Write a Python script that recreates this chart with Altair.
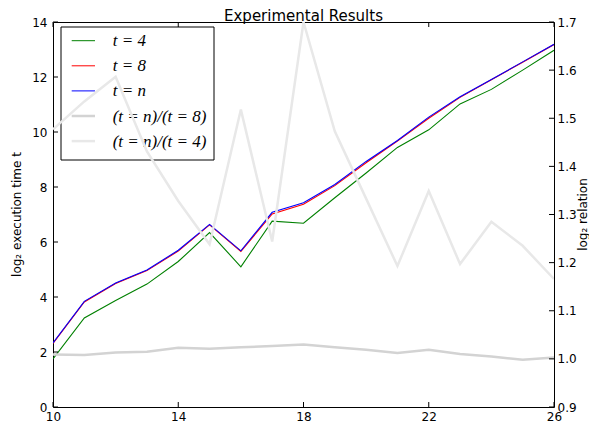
import altair as alt
import pandas as pd

# ---------------- data ----------------
x_vals = list(range(10, 27))
t4 = [1.75, 3.24, 3.87, 4.47, 5.29, 6.34, 5.10, 6.76, 6.68, 7.61, 8.51, 9.44, 10.08, 11.02, 11.55, 12.25, 12.97]
t8 = [2.31, 3.82, 4.49, 4.96, 5.67, 6.62, 5.66, 7.02, 7.37, 8.05, 8.88, 9.67, 10.50, 11.26, 11.90, 12.54, 13.18]
tn = [2.33, 3.84, 4.51, 4.98, 5.70, 6.64, 5.68, 7.08, 7.43, 8.09, 8.93, 9.69, 10.54, 11.28, 11.91, 12.55, 13.19]
ratio_n8 = [1.009, 1.008, 1.013, 1.015, 1.023, 1.021, 1.024, 1.027, 1.030, 1.024, 1.019, 1.012, 1.019, 1.010, 1.005, 0.998, 1.003]
ratio_n4 = [1.477, 1.535, 1.586, 1.431, 1.328, 1.238, 1.518, 1.244, 1.700, 1.473, 1.333, 1.193, 1.349, 1.197, 1.285, 1.235, 1.166]

x_ticks = [10, 14, 18, 22, 26]
left_ticks = [0, 2, 4, 6, 8, 10, 12, 14]
right_ticks = [0.9, 1.0, 1.1, 1.2, 1.3, 1.4, 1.5, 1.6, 1.7]

legend_labels = ["t = 4", "t = 8", "t = n", "(t = n)/(t = 8)", "(t = n)/(t = 4)"]
legend_colors = ["#008000", "#ff0000", "#0000ff", "#d3d3d3", "#e8e8e8"]
legend_widths = [1, 1, 1, 2.5, 2.5]

title_text = "Experimental Results"
left_title = "log\u2082 execution time t"
right_title = "log\u2082 relation"

# ---------------- layout ----------------
W, H = 501, 385
TICK = 5

df = pd.DataFrame({"x": x_vals, "t4": t4, "t8": t8, "tn": tn,
                   "r8": ratio_n8, "r4": ratio_n4})

xscale = alt.Scale(domain=[10, 26], nice=False, zero=False)
yl = alt.Scale(domain=[0, 14], nice=False, zero=False)
yr = alt.Scale(domain=[0.9, 1.7], nice=False, zero=False)

xaxis = alt.Axis(values=x_ticks, title=None, labelPadding=4, format="d", orient="bottom",
                 labelFlush=False)
lyaxis = alt.Axis(values=left_ticks, title=None, labelPadding=6, orient="left", format="d",
                  labelFlush=False)
ryaxis = alt.Axis(values=right_ticks, title=None, labelPadding=3, orient="right", format=".1f",
                  labelFlush=False)

base = alt.Chart(df)
X = alt.X("x:Q", scale=xscale, axis=xaxis)


def left_line(field, color):
    return base.mark_line(color=color, strokeWidth=1.1, clip=True).encode(
        x=X, y=alt.Y(f"{field}:Q", scale=yl, axis=lyaxis))


green = left_line("t4", legend_colors[0])
red = left_line("t8", legend_colors[1])
blue = left_line("tn", legend_colors[2])

xt_df = pd.DataFrame({"v": x_ticks})
lt_df = pd.DataFrame({"v": left_ticks})
rt_df = pd.DataFrame({"v": right_ticks})

XT = alt.X("v:Q", scale=xscale, axis=xaxis)
xtick_bottom = alt.Chart(xt_df).mark_rule(color="black", strokeWidth=1).encode(
    x=XT, y=alt.value(H), y2=alt.value(H - TICK))
xtick_top = alt.Chart(xt_df).mark_rule(color="black", strokeWidth=1).encode(
    x=XT, y=alt.value(0), y2=alt.value(TICK))
ltick = alt.Chart(lt_df).mark_rule(color="black", strokeWidth=1).encode(
    y=alt.Y("v:Q", scale=yl, axis=lyaxis), x=alt.value(0), x2=alt.value(TICK))

left_group = alt.layer(green, red, blue, ltick, xtick_bottom, xtick_top)

gray8 = base.mark_line(color=legend_colors[3], strokeWidth=2.5, clip=True).encode(
    x=X, y=alt.Y("r8:Q", scale=yr, axis=ryaxis))
gray4 = base.mark_line(color=legend_colors[4], strokeWidth=2.5, clip=True).encode(
    x=X, y=alt.Y("r4:Q", scale=yr, axis=ryaxis))
rtick = alt.Chart(rt_df).mark_rule(color="black", strokeWidth=1).encode(
    y=alt.Y("v:Q", scale=yr, axis=ryaxis), x=alt.value(W), x2=alt.value(W - TICK))
right_group = alt.layer(gray8, gray4, rtick)

# ---------------- legend ----------------
one = pd.DataFrame({"k": [0]})
leg_layers = [
    alt.Chart(one).mark_rect(fill="white", stroke="black", strokeWidth=1).encode(
        x=alt.value(8), x2=alt.value(161), y=alt.value(5), y2=alt.value(138))
]
for i, (lab, col, w) in enumerate(zip(legend_labels, legend_colors, legend_widths)):
    yy = 18.7 + i * 25.1
    leg_layers.append(
        alt.Chart(one).mark_rule(color=col, strokeWidth=w).encode(
            x=alt.value(18.7), x2=alt.value(42), y=alt.value(yy)))
    leg_layers.append(
        alt.Chart(one).mark_text(align="left", baseline="middle", font="Liberation Serif",
                                 fontStyle="italic", fontSize=17, color="black").encode(
            x=alt.value(59.7), y=alt.value(yy + 0.5), text=alt.value(lab)))
legend_group = alt.layer(*leg_layers)

# ---------------- titles ----------------
titles = alt.layer(
    alt.Chart(one).mark_text(align="center", baseline="alphabetic", font="DejaVu Sans",
                             fontSize=15, color="black").encode(
        x=alt.value(W / 2), y=alt.value(-1.5), text=alt.value(title_text)),
    alt.Chart(one).mark_text(align="center", baseline="middle", font="DejaVu Sans",
                             fontSize=12, color="black", angle=270).encode(
        x=alt.value(-36), y=alt.value(H / 2), text=alt.value(left_title)),
    alt.Chart(one).mark_text(align="center", baseline="middle", font="DejaVu Sans",
                             fontSize=12, color="black", angle=270).encode(
        x=alt.value(530), y=alt.value(H / 2), text=alt.value(right_title)),
)

chart = (
    alt.layer(left_group, legend_group, right_group, titles)
    .resolve_scale(y="independent")
    .properties(
        width=W, height=H,
        padding={"left": 45, "top": 14, "right": 35, "bottom": 15},
        autosize=alt.AutoSizeParams(type="none"),
        background="white",
    )
    .configure_view(stroke="black", strokeWidth=1)
    .configure_axis(domain=False, ticks=False, grid=False, labelFont="DejaVu Sans",
                    labelFontSize=12, labelColor="black")
)

chart.save("out.html", embed_options={"renderer": "svg", "actions": False})
